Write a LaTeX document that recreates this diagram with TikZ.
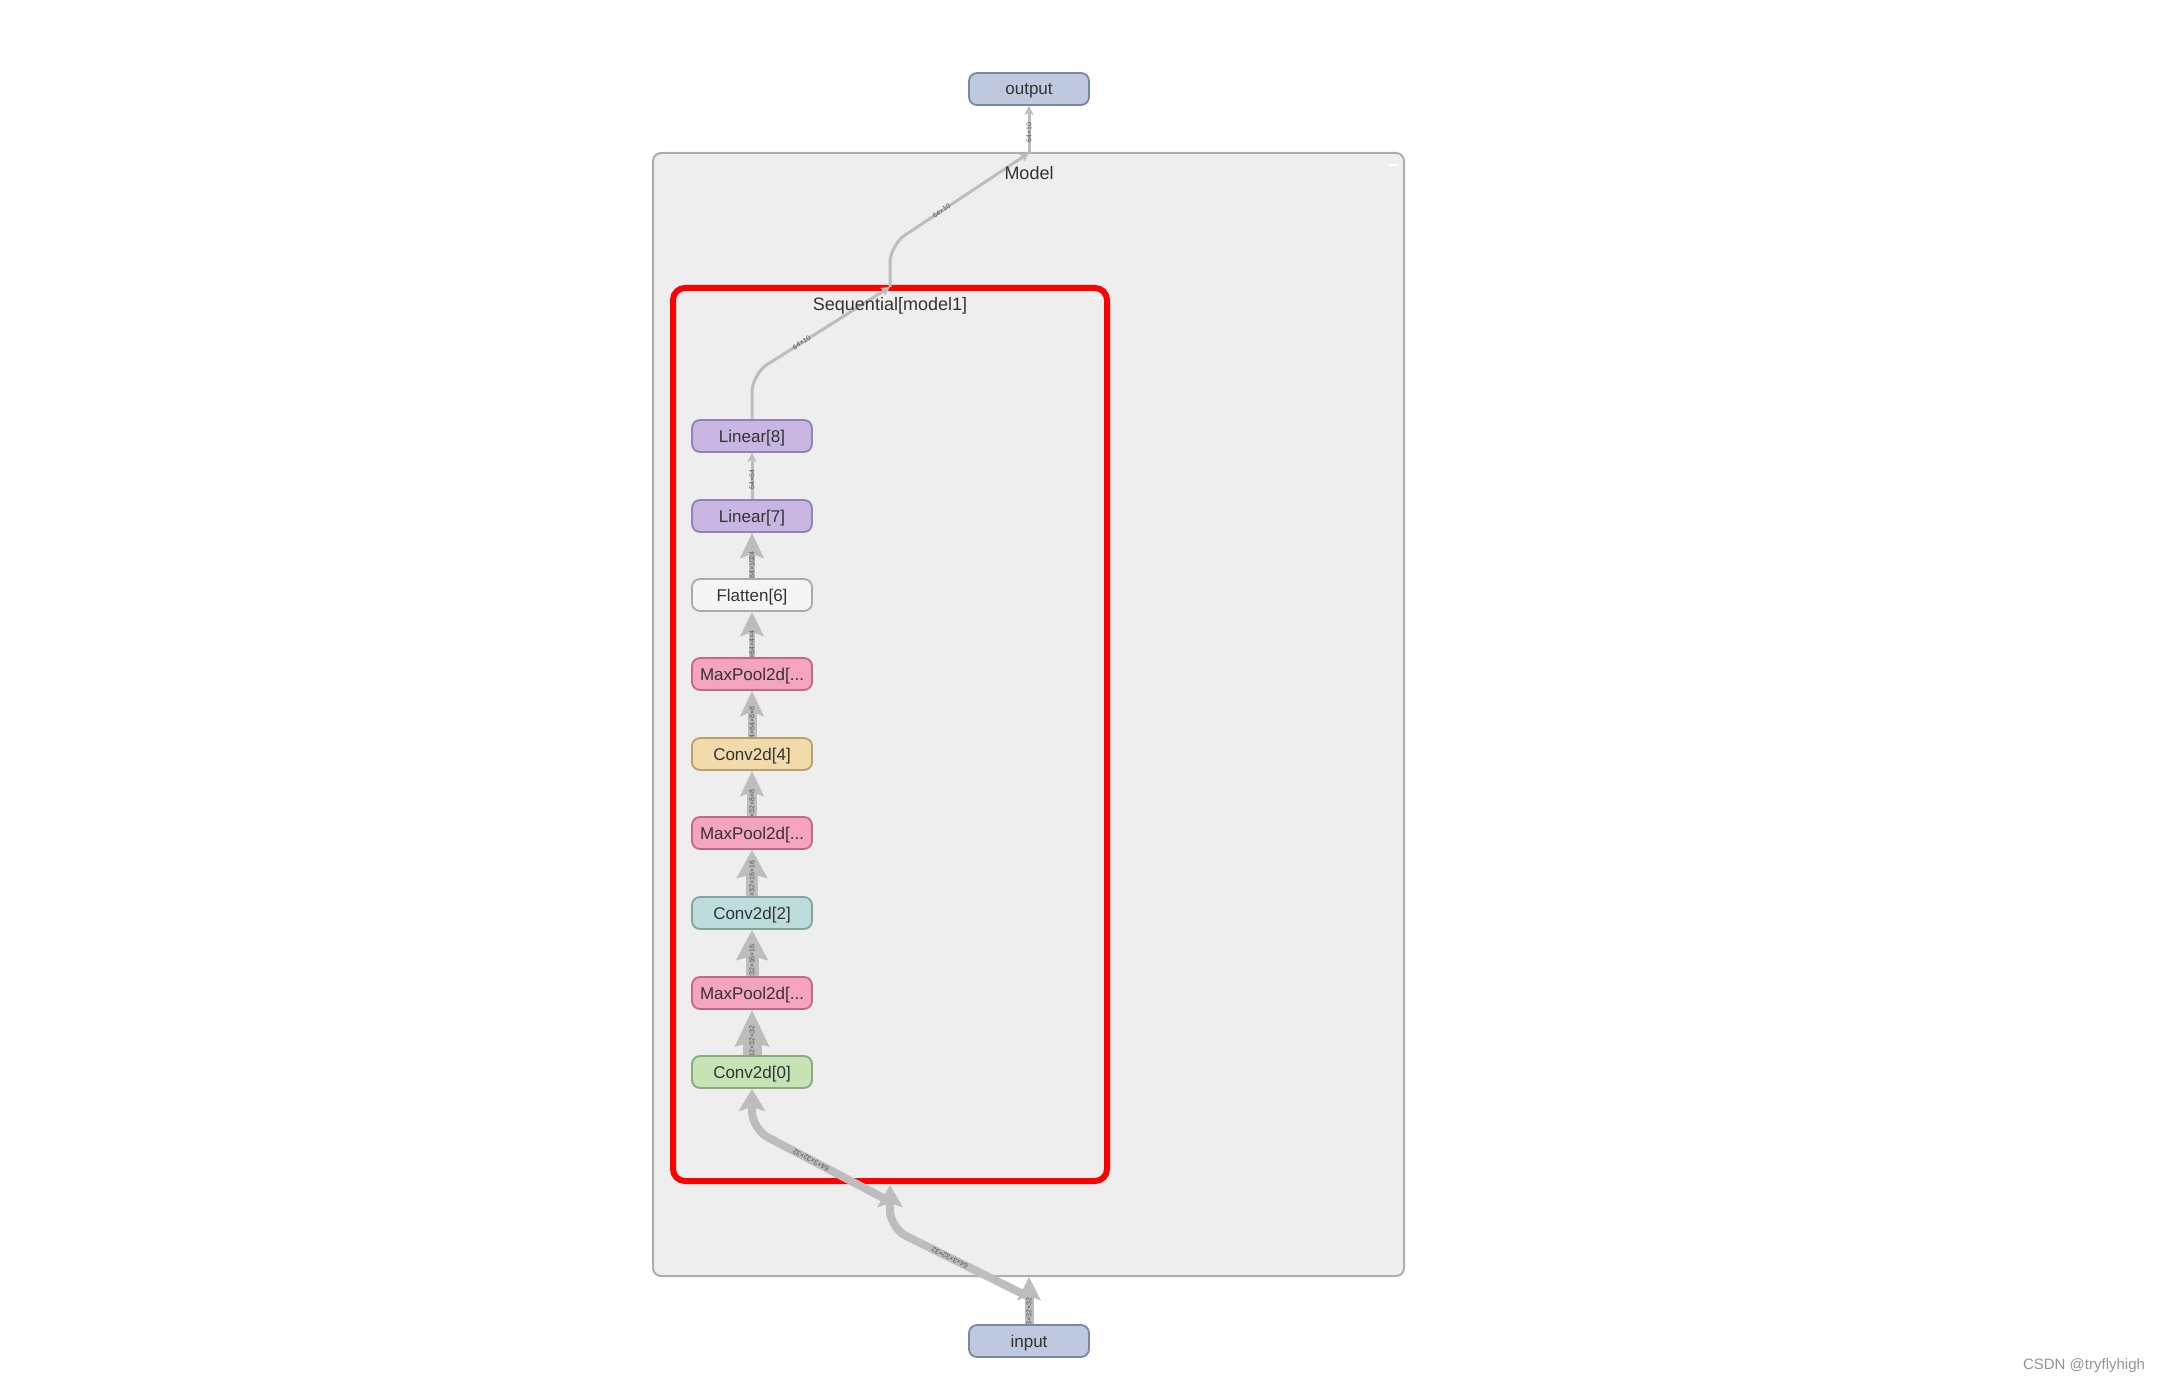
\documentclass[tikz,border=0pt]{standalone}
\usepackage{fontspec}
\setmainfont{Liberation Sans}
\usetikzlibrary{arrows.meta,backgrounds}

\definecolor{panelfill}{HTML}{EEEEEE}
\definecolor{panelline}{HTML}{ADADAD}
\definecolor{wiregray}{HTML}{BDBDBD}
\definecolor{ink}{HTML}{333333}
\definecolor{iofill}{HTML}{BEC8DF}
\definecolor{ioline}{HTML}{7A86A3}
\definecolor{linfill}{HTML}{C5B7E1}
\definecolor{linline}{HTML}{9283B2}
\definecolor{flatfill}{HTML}{F5F5F5}
\definecolor{flatline}{HTML}{ABABAB}
\definecolor{poolfill}{HTML}{F4A4BF}
\definecolor{poolline}{HTML}{C06A88}
\definecolor{convAfill}{HTML}{C6E3B6}
\definecolor{convAline}{HTML}{8DAA7E}
\definecolor{convBfill}{HTML}{BDDCDC}
\definecolor{convBline}{HTML}{83A3A3}
\definecolor{convCfill}{HTML}{F2DBAA}
\definecolor{convCline}{HTML}{B89F6F}

\newcommand{\poolname}{MaxPool2d[...}

\tikzset{
    layer/.style={rectangle, rounded corners=4pt, minimum width=60pt, minimum height=16pt,
        inner sep=0pt, text height=6pt, text depth=0pt, line width=0.9pt, text=ink,
        font=\fontsize{8.5}{10}\selectfont, fill=#1fill, draw=#1line},
    panel/.style={fill=panelfill, draw=panelline, line width=1pt, rounded corners=4pt},
    highlight/.style={fill=panelfill, draw=red, line width=3pt, rounded corners=6pt},
    flow/.style n args={3}{draw=wiregray, line width=#1, -{Stealth[width=#2, length=#3, inset=2pt]}},
    thinflow/.style={draw=wiregray, line width=1.5pt, -{Stealth[width=4.5pt, length=4.5pt, inset=1pt]}},
    elabel/.style={font=\fontsize{3.5}{4}\selectfont, text=ink!85, inner sep=0pt},
    title/.style={font=\fontsize{9}{11}\selectfont, text=ink}
}

\begin{document}
\begin{tikzpicture}[x=0.5pt, y=-0.5pt]
    % Fix the page to the size of the screenshot
    \useasboundingbox (0,0) rectangle (2161,1385);
    % Ports on the panel borders
    \coordinate (modeltop) at (1029,153);
    \coordinate (modelbot) at (1029,1277);
    \coordinate (modelin) at (1029,1297);
    \coordinate (seqtop) at (890,287);
    \coordinate (seqbot) at (890,1185);
    \coordinate (seqin) at (889,1201);
    % Graph input and output
    \node[layer=io] (output) at (1029,89) {output};
    \node[layer=io] (input) at (1029,1341) {input};
    % Column of layers in Sequential[model1]
    \foreach \name/\lbl/\kind/\y in {conv0/Conv2d[0]/convA/1072, pool1/\poolname/pool/993,
            conv2/Conv2d[2]/convB/913, pool3/\poolname/pool/833, conv4/Conv2d[4]/convC/754,
            pool5/\poolname/pool/674, flat6/Flatten[6]/flat/595, lin7/Linear[7]/lin/516,
            lin8/Linear[8]/lin/436}
        \node[layer=\kind] (\name) at (752,\y) {\lbl};
    % Panel titles
    \node[title] (modelname) at (1029,173) {Model};
    \node[title] (seqname) at (890,306) {Sequential[model1]};
    \node[font=\fontsize{7.5}{9}\selectfont, text=black!42, anchor=east] (mark) at (2152,1366) {CSDN @tryflyhigh};

    \begin{scope}[on background layer]
        % Panels
        \draw[panel] (653,153) rectangle (1404,1276);
        \draw[highlight] (673,288) rectangle (1107,1181);
        \draw[white, line width=1.2pt] (1389,165) -- (1398,165);
        \draw[white, line width=1.2pt] (1093,298) -- (1101,298);
        % Edges into the model
        \draw[flow={4pt}{12.5pt}{11pt}, rounded corners=9pt] (modelin)
            -- node[elabel, sloped, allow upside down, pos=0.57] (lab-seqbot) {64×3×32×32} ++(-139,-69) -- (seqbot);
        \draw[flow={4.5pt}{11.5pt}{11.5pt}] (input)
            -- node[elabel, sloped, pos=0.27] (lab-modelbot) {3×32×32} (modelbot);
        \draw[flow={4pt}{13pt}{11pt}, rounded corners=9pt] (seqin)
            -- node[elabel, sloped, allow upside down, pos=0.57] (lab-conv0) {64×3×32×32} ++(-137,-72) -- (conv0);
        % Edges between the layers
        \foreach \a/\b/\lw/\hw/\hl/\lab/\p in {conv0/pool1/9.5pt/16.5pt/18pt/64×32×32×32/0.17,
                pool1/conv2/6.5pt/15.5pt/15pt/64×32×16×16/0.22,
                conv2/pool3/6pt/15pt/14pt/64×32×16×16/0.29,
                pool3/conv4/5pt/11.5pt/12.5pt/64×32×8×8/0.2,
                conv4/pool5/4.5pt/11.5pt/12.5pt/64×64×8×8/0.27,
                pool5/flat6/3pt/11.5pt/12pt/64×64×4×4/0.2,
                flat6/lin7/3pt/11.5pt/12.5pt/64×1024/0.29}
            \draw[flow={\lw}{\hw}{\hl}] (\a) -- node[elabel, sloped, pos=\p] (lab-\b) {\lab} (\b);
        \draw[thinflow] (lin7) -- node[elabel, sloped, pos=0.42] (lab-lin8) {64×64} (lin8);
        % Edges out of the model
        \draw[thinflow, rounded corners=9pt] (lin8.north) -- ++(0,-45)
            -- node[elabel, sloped, pos=0.36] (lab-seqtop) {64×10} (seqtop);
        \draw[thinflow, rounded corners=9pt] (seqtop) -- ++(0,-42)
            -- node[elabel, sloped, pos=0.37] (lab-modeltop) {64×10} (modeltop);
        \draw[thinflow] (modeltop) -- node[elabel, sloped, pos=0.43] (lab-output) {64×10} (output);
    \end{scope}
\end{tikzpicture}
\end{document}
